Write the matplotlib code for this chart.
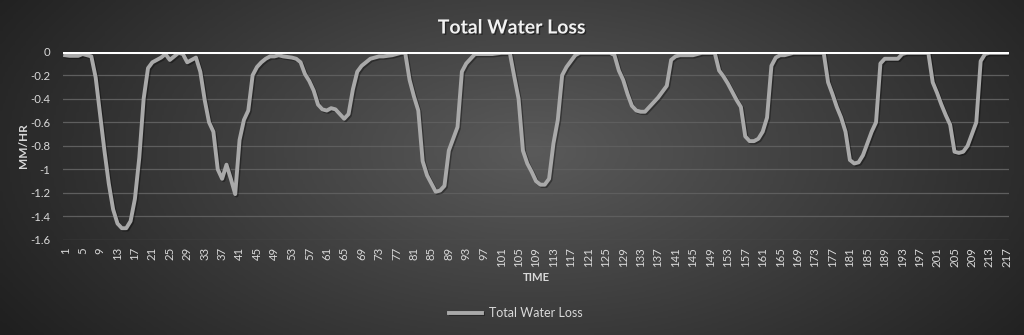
import numpy as np
import matplotlib
matplotlib.use("Agg")
import matplotlib.pyplot as plt
from matplotlib import patheffects as pe
from matplotlib.colors import LinearSegmentedColormap

# ---- data ----
time = list(range(1, 218))
water_loss = [
    -0.03, -0.035, -0.035, -0.035, -0.02, -0.03, -0.04, -0.22, -0.53, -0.84,
    -1.12, -1.34, -1.46, -1.50, -1.50, -1.44, -1.25, -0.90, -0.40, -0.14,
    -0.09, -0.07, -0.05, -0.02, -0.07, -0.04, -0.01, -0.02, -0.09, -0.07,
    -0.05, -0.17, -0.41, -0.60, -0.68, -1.00, -1.08, -0.96, -1.08, -1.21,
    -0.75, -0.58, -0.50, -0.20, -0.13, -0.09, -0.06, -0.04, -0.04, -0.03,
    -0.04, -0.045, -0.05, -0.06, -0.09, -0.19, -0.25, -0.33, -0.45, -0.49,
    -0.50, -0.48, -0.49, -0.53, -0.57, -0.53, -0.32, -0.17, -0.12, -0.09,
    -0.06, -0.05, -0.04, -0.04, -0.035, -0.03, -0.02, -0.01, -0.01, -0.24,
    -0.38, -0.50, -0.93, -1.05, -1.12, -1.19, -1.18, -1.14, -0.84, -0.74,
    -0.64, -0.17, -0.10, -0.06, -0.02, -0.02, -0.02, -0.02, -0.02, -0.015,
    -0.01, -0.01, -0.01, -0.21, -0.40, -0.84, -0.95, -1.02, -1.10, -1.13,
    -1.13, -1.08, -0.78, -0.58, -0.20, -0.13, -0.08, -0.03, -0.01, -0.01,
    -0.01, -0.01, -0.01, -0.01, -0.01, -0.01, -0.03, -0.16, -0.24, -0.36,
    -0.46, -0.50, -0.51, -0.51, -0.47, -0.43, -0.39, -0.34, -0.29, -0.07,
    -0.04, -0.03, -0.03, -0.03, -0.03, -0.02, -0.01, -0.01, -0.01, -0.01,
    -0.16, -0.21, -0.27, -0.34, -0.41, -0.47, -0.72, -0.76, -0.76, -0.74,
    -0.68, -0.56, -0.12, -0.05, -0.03, -0.03, -0.02, -0.01, -0.01, -0.01,
    -0.01, -0.01, -0.01, -0.01, -0.01, -0.26, -0.36, -0.47, -0.56, -0.68,
    -0.92, -0.95, -0.94, -0.88, -0.78, -0.68, -0.60, -0.10, -0.06, -0.06,
    -0.06, -0.06, -0.02, -0.01, -0.01, -0.01, -0.01, -0.01, -0.01, -0.26,
    -0.35, -0.45, -0.54, -0.62, -0.85, -0.86, -0.85, -0.80, -0.70, -0.60,
    -0.08, -0.02, -0.01, -0.01, -0.01, -0.01, -0.01,
]
y_ticks = [0, -0.2, -0.4, -0.6, -0.8, -1.0, -1.2, -1.4, -1.6]
y_tick_labels = ["0", "-0.2", "-0.4", "-0.6", "-0.8", "-1", "-1.2", "-1.4", "-1.6"]
x_tick_labels = time[::4]

plt.rcParams['font.family'] = ['Lato', 'DejaVu Sans']

W, H = 1024, 335
fig = plt.figure(figsize=(W / 100, H / 100), dpi=100)

# background radial gradient
bg = fig.add_axes([0, 0, 1, 1], zorder=-10)
gx, gy = np.meshgrid(np.linspace(0, 1, 400), np.linspace(0, 1, 140))
r = np.sqrt(((gx - 0.52) / 0.62) ** 2 + ((gy - 0.55) / 1.0) ** 2)
r = np.clip(r, 0, 1)
cmap = LinearSegmentedColormap.from_list("bg", ["#5a5a5a", "#1f1f1f"])
bg.imshow(r, cmap=cmap, aspect='auto', extent=[0, 1, 0, 1], origin='lower', vmin=0, vmax=1)
bg.set_axis_off()

ax = fig.add_axes([63 / W, 1 - 240 / H, (1009 - 63) / W, (240 - 51.7) / H])
ax.set_facecolor('none')

line, = ax.plot(time, water_loss, color='#a9a9a9', lw=2.8, solid_joinstyle='round',
                label='Total Water Loss', zorder=3)
line.set_path_effects([pe.SimpleLineShadow(offset=(1, -1), shadow_color='black', alpha=0.35),
                       pe.Normal()])

ax.set_xlim(0.5, 217.5)
ax.set_ylim(-1.6, 0)
ax.set_yticks(y_ticks)
ax.set_yticklabels(y_tick_labels)
ax.set_xticks(x_tick_labels)
ax.set_xticklabels([str(t) for t in x_tick_labels], rotation=90)

for yt in y_ticks[1:]:
    ax.axhline(yt, color='#5e5e5e', lw=0.9, zorder=1)
ax.axhline(0, color='white', lw=2.2, zorder=4)

for s in ax.spines.values():
    s.set_visible(False)
ax.tick_params(axis='both', length=0, colors='#d9d9d9', labelsize=8.2)
ax.tick_params(axis='y', pad=9)
ax.tick_params(axis='x', pad=5)

ax.set_ylabel('MM/HR', color='#d9d9d9', fontsize=8.5, fontweight='bold', labelpad=1)
ax.set_xlabel('TIME', color='#d9d9d9', fontsize=8.2, fontweight='bold', labelpad=4)

fig.text(0.5, 1 - 28 / H, 'Total Water Loss', ha='center', va='center', color='#f2f2f2',
         fontsize=14, fontweight='bold',
         path_effects=[pe.withSimplePatchShadow(offset=(1, -1), shadow_rgbFace='black', alpha=0.4)])

leg = fig.legend(handles=[line], labels=['Total Water Loss'], loc='center',
                 bbox_to_anchor=(516 / W, 1 - 313 / H), frameon=False, fontsize=9,
                 handlelength=2.6, handletextpad=0.6)
for t in leg.get_texts():
    t.set_color('#d9d9d9')

fig.savefig('out.png', dpi=100)
